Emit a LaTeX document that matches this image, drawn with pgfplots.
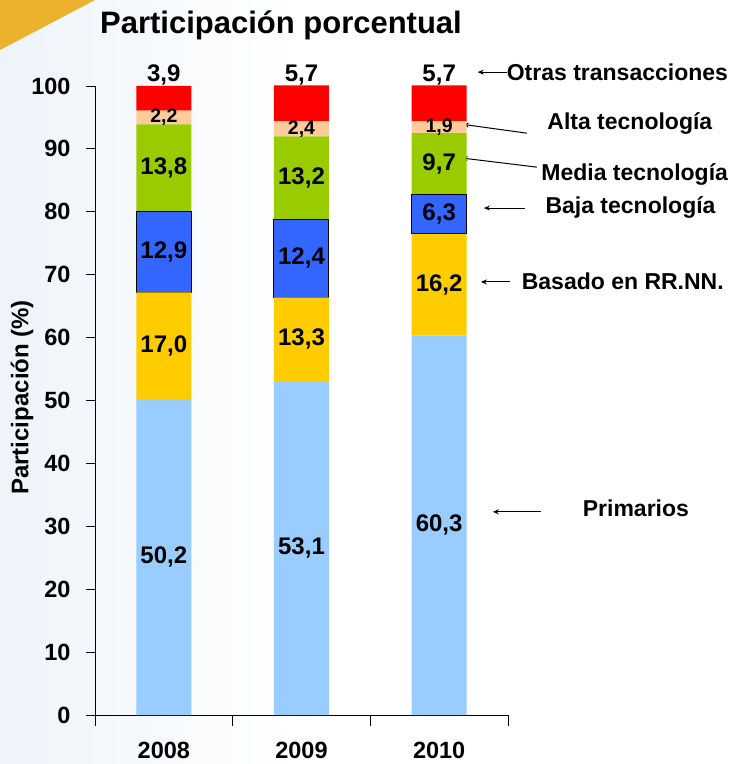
\documentclass[border=0pt]{standalone}
\usepackage{pgfplots}
\pgfplotsset{compat=1.18}
\usepackage{pgfplotstable}
\usetikzlibrary{arrows.meta}
\usepackage{fontspec}
\setmainfont{Liberation Sans}
\definecolor{cprim}{HTML}{99CCFF}
\definecolor{crrnn}{HTML}{FFCC00}
\definecolor{cbaja}{HTML}{3366FF}
\definecolor{cmedia}{HTML}{99CC00}
\definecolor{calta}{HTML}{FFCC99}
\definecolor{cotras}{HTML}{FF0000}
\definecolor{corange}{HTML}{ECB22E}
\definecolor{bgblue}{HTML}{EEF4FA}

\pgfplotstableread{
x prim rrnn baja media alta otras
0 50.2 17.0 12.9 13.8 2.2 3.9
1 53.1 13.3 12.4 13.2 2.4 5.7
2 60.3 16.2 6.3 9.7 1.9 5.7
}\datatab

\pgfplotsset{
 numlabel/.style={
   point meta=explicit,
   nodes near coords={\pgfmathprintnumber[fixed,fixed zerofill,precision=1,use comma,assume math mode=true]{\pgfplotspointmeta}},
 },
 midlabel/.style={
   numlabel,
   every node near coord/.append style={anchor=center},
 }
}
\newcommand{\annfont}{\fontsize{23}{23}\selectfont\bfseries}

\begin{document}
\begin{tikzpicture}
\fill[white] (-95pt,-49pt) rectangle (639pt,715pt);
\shade[left color=bgblue, right color=white] (-95pt,-49pt) rectangle (200pt,715pt);
\fill[corange] (-95pt,715pt) -- (0pt,715pt) -- (-95pt,665pt) -- cycle;
\begin{axis}[
  at={(0pt,0pt)}, anchor=south west,
  scale only axis, width=413pt, height=629pt,
  ybar stacked, bar width=55pt,
  xmin=-0.5, xmax=2.5, ymin=0, ymax=100,
  axis lines*=left,
  clip=false,
  xtick={0,1,2}, xticklabels={2008,2009,2010},
  minor xtick={-0.5,0.5,1.5,2.5},
  major x tick style={draw=none},
  ytick={0,10,...,100},
  tick align=outside,
  major tick length=9pt, minor tick length=11pt,
  tick style={black, line width=0.9pt},
  axis line style={black, line width=0.9pt},
  ticklabel style={font=\fontsize{23.5}{23.5}\selectfont\bfseries},
  /pgf/number format/assume math mode=true,
  yticklabel style={xshift=-12pt},
  xticklabel style={yshift=-15pt},
  ylabel={Participación (\%)},
  ylabel style={font=\fontsize{24}{24}\selectfont\bfseries, at={(axis description cs:-0.1768,0.505)}, anchor=center},
  every node near coord/.append style={font=\fontsize{24}{24}\selectfont\bfseries, text=black},
]
\addplot[fill=cprim, draw=none, midlabel] table[x=x,y=prim,meta=prim]{\datatab};
\addplot[fill=crrnn, draw=none, midlabel] table[x=x,y=rrnn,meta=rrnn]{\datatab};
\addplot[fill=cbaja, draw=black, line width=1pt, midlabel] table[x=x,y=baja,meta=baja]{\datatab};
\addplot[fill=cmedia, draw=none, midlabel] table[x=x,y=media,meta=media]{\datatab};
\addplot[fill=calta, draw=none, midlabel, every node near coord/.append style={font=\fontsize{19.5}{19.5}\selectfont\bfseries}] table[x=x,y=alta,meta=alta]{\datatab};
\addplot[fill=cotras, draw=none, numlabel,
  visualization depends on={\thisrow{otras} \as \rawy},
  every node near coord/.append style={anchor=south, shift={(axis direction cs:0,\rawy/2)}, yshift=-3pt}] table[x=x,y=otras,meta=otras]{\datatab};

\node[font=\fontsize{31}{31}\selectfont\bfseries] at (axis cs:0.851,109.6) {Participación porcentual};

\node[anchor=west, inner sep=0pt, font=\annfont] at (axis cs:2.49,102.2) {Otras transacciones};
\draw[-{Stealth[length=6pt,width=5pt]}, line width=1pt] (axis cs:2.49,102.2) -- (axis cs:2.28,102.2);

\node[font=\annfont] at (axis cs:3.385,94.1) {Alta tecnología};
\draw[-{Stealth[length=6pt,width=5pt]}, line width=1pt] (axis cs:2.637,92.5) -- (axis cs:2.172,93.9);

\node[font=\annfont] at (axis cs:3.42,85.85) {Media tecnología};
\draw[-{Stealth[length=6pt,width=5pt]}, line width=1pt] (axis cs:2.71,87.1) -- (axis cs:2.165,88.55);

\node[font=\annfont] at (axis cs:3.39,80.76) {Baja tecnología};
\draw[-{Stealth[length=6pt,width=5pt]}, line width=1pt] (axis cs:2.623,80.6) -- (axis cs:2.325,80.6);

\node[font=\annfont] at (axis cs:3.334,69.0) {Basado en RR.NN.};
\draw[-{Stealth[length=6pt,width=5pt]}, line width=1pt] (axis cs:2.514,68.85) -- (axis cs:2.303,68.85);

\node[font=\annfont] at (axis cs:3.429,32.9) {Primarios};
\draw[-{Stealth[length=6pt,width=5pt]}, line width=1pt] (axis cs:2.739,32.3) -- (axis cs:2.39,32.3);
\end{axis}
\end{tikzpicture}
\end{document}
